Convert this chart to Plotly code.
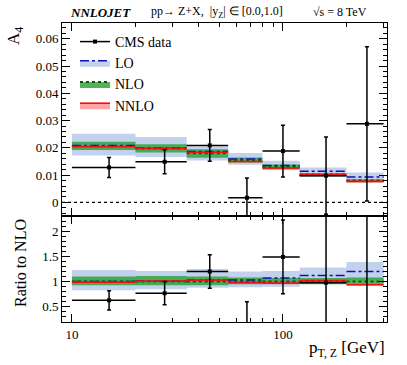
import plotly.graph_objects as go
from plotly.subplots import make_subplots

# ---------------- data ----------------
edges = [10, 20, 35, 55, 80, 120, 200, 300]
pt_centers = [15, 27.5, 45, 67.5, 100, 160, 250]

# top panel: A4
cms = [0.0128, 0.0149, 0.0209, 0.0017, 0.0188, 0.0098, 0.0288]
cms_err = [0.0037, 0.0044, 0.0058, 0.0072, 0.0095, 0.0142, 0.0283]

lo_c = [0.0209, 0.0199, 0.0187, 0.0159, 0.0135, 0.0114, 0.0093]
lo_lo = [0.0172, 0.0166, 0.0154, 0.0138, 0.0120, 0.0093, 0.0077]
lo_hi = [0.0252, 0.0240, 0.0205, 0.0181, 0.0153, 0.0128, 0.0110]

nlo_c = [0.0207, 0.0198, 0.0180, 0.0155, 0.0130, 0.0102, 0.0080]
nlo_lo = [0.0192, 0.0183, 0.0164, 0.0146, 0.0121, 0.0096, 0.0074]
nlo_hi = [0.0222, 0.0213, 0.0195, 0.0165, 0.0139, 0.0108, 0.0085]

nnlo_c = [0.0204, 0.0198, 0.0184, 0.0150, 0.0126, 0.0101, 0.0077]
nnlo_lo = [0.0200, 0.0194, 0.0180, 0.0146, 0.0122, 0.0097, 0.0073]
nnlo_hi = [0.0208, 0.0202, 0.0188, 0.0154, 0.0130, 0.0105, 0.0081]

# bottom panel: ratio to NLO
cms_r = [0.63, 0.77, 1.20, 0.11, 1.49, 0.98, 3.60]
cms_r_err = [0.19, 0.23, 0.33, 0.49, 0.73, 1.40, 3.50]

lo_r_c = [1.00, 1.01, 1.03, 1.03, 1.07, 1.12, 1.20]
lo_r_lo = [0.83, 0.85, 0.88, 0.89, 0.90, 0.98, 1.03]
lo_r_hi = [1.23, 1.21, 1.25, 1.20, 1.21, 1.28, 1.39]

nlo_r_c = [1.00, 1.00, 1.00, 1.00, 1.00, 1.00, 1.00]
nlo_r_lo = [0.93, 0.93, 0.93, 0.95, 0.96, 0.95, 0.96]
nlo_r_hi = [1.10, 1.11, 1.10, 1.08, 1.07, 1.07, 1.08]

nnlo_r_c = [0.99, 1.01, 1.03, 0.98, 0.97, 1.02, 0.94]
nnlo_r_lo = [0.97, 0.99, 1.01, 0.96, 0.95, 1.00, 0.92]
nnlo_r_hi = [1.01, 1.03, 1.05, 1.00, 0.99, 1.04, 0.96]

# ---------------- style ----------------
FONT = "Liberation Serif"
LO_BAND = "rgba(110,145,210,0.42)"
NLO_BAND = "rgba(40,160,50,0.80)"
NNLO_BAND = "rgba(255,90,90,0.55)"
LO_LINE = dict(color="#1010b0", width=1.5, dash="dashdot")
NLO_LINE = dict(color="#0a5a0a", width=2, dash="dot")
NNLO_LINE = dict(color="#ee1111", width=1.6)


def seg_xy(vals):
    xs, ys = [], []
    for i, v in enumerate(vals):
        xs += [edges[i], edges[i + 1], None]
        ys += [v, v, None]
    return xs, ys


def band_xy(lo, hi):
    xs, ys = [], []
    for i in range(len(lo)):
        a, b = edges[i], edges[i + 1]
        xs += [a, b, b, a, a, None]
        ys += [lo[i], lo[i], hi[i], hi[i], lo[i], None]
    return xs, ys


fig = make_subplots(rows=2, cols=1, shared_xaxes=True, vertical_spacing=0)


def add_panel(row, data, derr, bands, lines):
    for (lo, hi), col in zip(bands, [LO_BAND, NLO_BAND, NNLO_BAND]):
        bx, by = band_xy(lo, hi)
        fig.add_trace(go.Scatter(x=bx, y=by, mode="lines", fill="toself",
                                 fillcolor=col, line=dict(width=0),
                                 hoverinfo="skip", showlegend=False), row=row, col=1)
    for vals, ln in zip(lines, [LO_LINE, NLO_LINE, NNLO_LINE]):
        lx, ly = seg_xy(vals)
        fig.add_trace(go.Scatter(x=lx, y=ly, mode="lines", line=ln,
                                 hoverinfo="skip", showlegend=False), row=row, col=1)
    fig.add_trace(go.Scatter(
        x=pt_centers, y=data, mode="markers",
        marker=dict(color="black", size=4, symbol="square"),
        error_y=dict(type="data", array=derr, color="black", thickness=1.5, width=2),
        error_x=dict(type="data",
                     array=[edges[i + 1] - pt_centers[i] for i in range(len(pt_centers))],
                     arrayminus=[pt_centers[i] - edges[i] for i in range(len(pt_centers))],
                     color="black", thickness=1.5, width=0),
        showlegend=False), row=row, col=1)


add_panel(1, cms, cms_err,
          [(lo_lo, lo_hi), (nlo_lo, nlo_hi), (nnlo_lo, nnlo_hi)],
          [lo_c, nlo_c, nnlo_c])
add_panel(2, cms_r, cms_r_err,
          [(lo_r_lo, lo_r_hi), (nlo_r_lo, nlo_r_hi), (nnlo_r_lo, nnlo_r_hi)],
          [lo_r_c, nlo_r_c, nnlo_r_c])

# legend-only entries
fig.add_trace(go.Scatter(x=[None], y=[None], mode="lines+markers", name="CMS data",
                         line=dict(color="black", width=1.5),
                         marker=dict(color="black", size=4, symbol="square"),
                         legendrank=1), row=1, col=1)
for name, col, ln, rk in [("LO", LO_BAND, LO_LINE, 2), ("NLO", NLO_BAND, NLO_LINE, 3),
                          ("NNLO", NNLO_BAND, NNLO_LINE, 4)]:
    fig.add_trace(go.Scatter(x=[None], y=[None], mode="lines", fill="toself",
                             fillcolor=col, line=ln, name=name, legendrank=rk),
                  row=1, col=1)

# zero line
fig.add_hline(y=0, line=dict(color="black", width=1.2, dash="dot"), row=1, col=1)

axis_common = dict(showline=True, linecolor="black", linewidth=1, mirror="allticks",
                   ticks="inside", tickcolor="black", tickwidth=1.0,
                   showgrid=False, zeroline=False, automargin=False,
                   tickfont=dict(family=FONT, size=13, color="black"))

xminor = dict(ticks="inside", ticklen=4, tickcolor="black", showgrid=False,
              tickvals=[20, 30, 40, 50, 60, 70, 80, 90, 200, 300])
for r in (1, 2):
    fig.update_xaxes(type="log", range=[0.953, 2.493], tickvals=[10, 100],
                     ticktext=["10", "100"], ticklen=8, minor=xminor,
                     showticklabels=(r == 2), row=r, col=1, **axis_common)

split = 106 / 299
fig.update_yaxes(domain=[split, 1], range=[-0.005, 0.0658],
                 tickvals=[0, 0.01, 0.02, 0.03, 0.04, 0.05, 0.06],
                 ticktext=["0", "0.01", "0.02", "0.03", "0.04", "0.05", "0.06"], ticklen=8,
                 minor=dict(ticks="inside", ticklen=4, dtick=0.002, tick0=0,
                            tickcolor="black", showgrid=False),
                 row=1, col=1, **axis_common)
fig.update_yaxes(domain=[0, split], range=[0.2, 2.3], tickvals=[0.5, 1, 1.5, 2],
                 ticktext=["0.5", "1", "1.5", "2"], ticklen=8,
                 minor=dict(ticks="inside", ticklen=4, dtick=0.1, tick0=0,
                            tickcolor="black", showgrid=False),
                 row=2, col=1, **axis_common)

fig.update_layout(
    width=407, height=365,
    margin=dict(l=62, r=20, t=23, b=43),
    paper_bgcolor="white", plot_bgcolor="white",
    font=dict(family=FONT, size=14, color="black"),
    legend=dict(x=0.04, y=0.99, xanchor="left", yanchor="top",
                bgcolor="rgba(0,0,0,0)", font=dict(family=FONT, size=14),
                itemwidth=30, tracegroupgap=0),
    annotations=[
        dict(text="<b><i>NNLOJET</i></b>", x=100, y=12, font=dict(family=FONT, size=13)),
        dict(text="pp\u2192 Z+X,  |y<sub>Z</sub>| \u2208 [0.0,1.0]", x=217, y=12,
             font=dict(family=FONT, size=12)),
        dict(text="\u221As = 8 TeV", x=340, y=12, font=dict(family=FONT, size=12)),
        dict(text="A<sub>4</sub>", x=15, y=36, textangle=-90, font=dict(family=FONT, size=17)),
        dict(text="Ratio to NLO", x=20, y=263, textangle=-90,
             font=dict(family=FONT, size=16)),
        dict(text="p<sub>T, Z</sub> [GeV]", x=387, y=349, xanchor="right",
             font=dict(family=FONT, size=17)),
    ],
)

# convert pixel positions of the decorative texts to paper coordinates
pw, ph = 325, 299
for a in fig.layout.annotations:
    a.xref = "paper"
    a.yref = "paper"
    a.showarrow = False
    a.x = (a.x - 62) / pw
    a.y = 1 - (a.y - 23) / ph
    a.yanchor = "middle"
    if a.xanchor is None:
        a.xanchor = "center"

fig.write_html("out.html", config={"displayModeBar": False},
               post_script="document.body.style.margin='0';document.body.style.overflow='hidden';")
